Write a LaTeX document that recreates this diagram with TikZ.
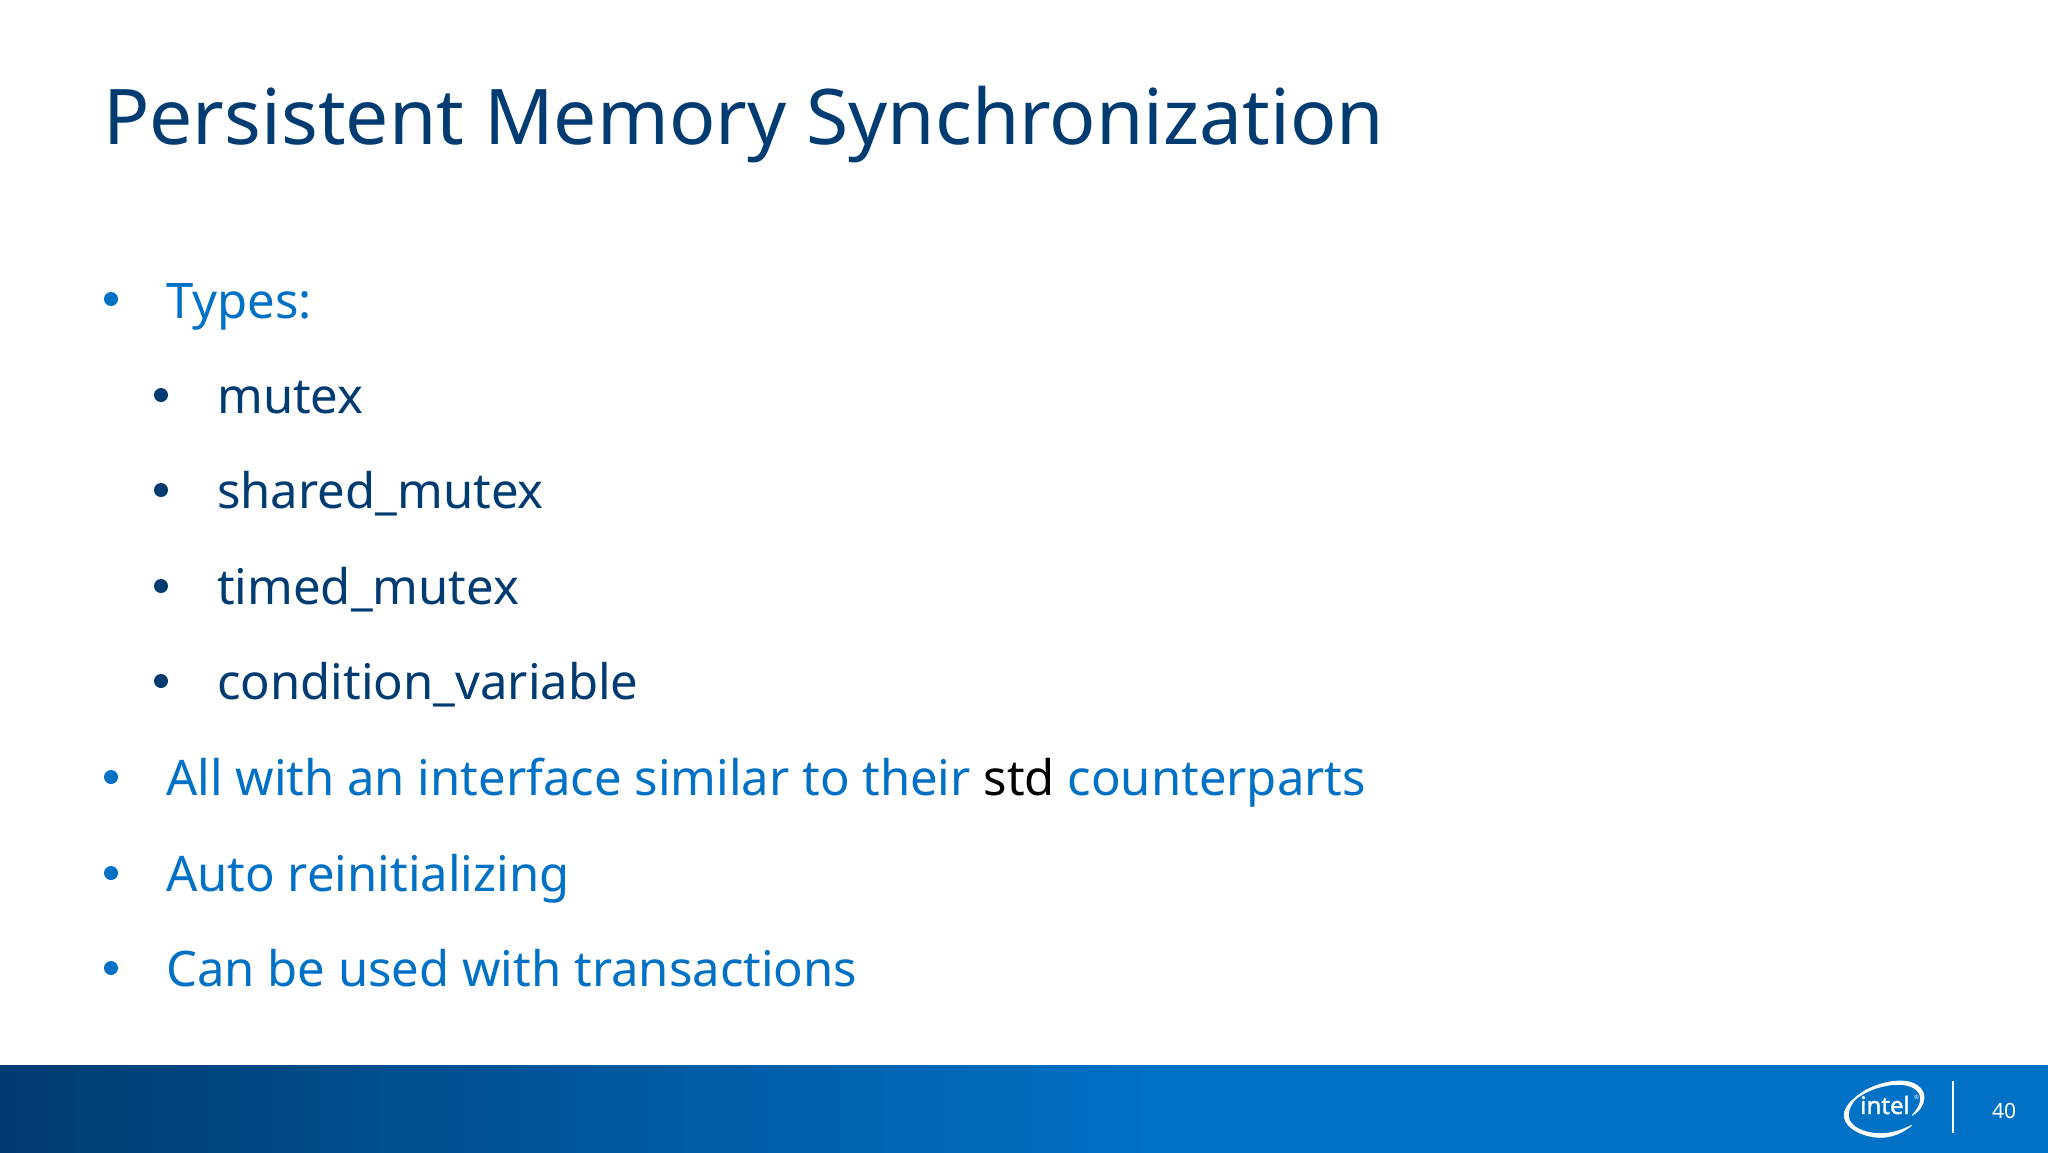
\documentclass[tikz,border=0pt]{standalone}
\usepackage{fontspec}
\setmainfont{Noto Sans}
\newfontfamily\logofont[FakeBold=1.6]{Noto Sans}
\definecolor{navy}{HTML}{003C71}
\definecolor{iblue}{HTML}{0071C5}
\tikzset{
  x=1pt,y=-1pt,
  titletext/.style={anchor=base west,inner sep=0pt,text=navy,font=\fontsize{76.8}{76.8}\selectfont},
  lone/.style={anchor=base west,inner sep=0pt,text=iblue,font=\fontsize{49}{49}\selectfont},
  ltwo/.style={anchor=base west,inner sep=0pt,text=navy,font=\fontsize{49}{49}\selectfont},
  bone/.style={circle,fill=iblue,inner sep=0pt,minimum size=14pt},
  btwo/.style={circle,fill=navy,inner sep=0pt,minimum size=14pt},
  swoosh/.style={fill=white,draw=white,line width=0.8pt,line join=round},
}
\begin{document}
\begin{tikzpicture}
\useasboundingbox (0,0) rectangle (2048,1152);
\fill[white] (0,0) rectangle (2048,1152);
\shade[left color=navy,right color=iblue,shading angle=90] (0,1065) rectangle (1150,1155);
\fill[iblue] (1149,1065) rectangle (2052,1155);
\node[titletext] (title) at (103,144) {Persistent Memory Synchronization};
\node[bone] (b1) at (111,299) {};
\node[lone] (t1) at (166,318) {Types:};
\node[btwo] (b2) at (161,395) {};
\node[ltwo] (t2) at (217,413) {mutex};
\node[btwo] (b3) at (161,490) {};
\node[ltwo] (t3) at (217,508) {shared\_mutex};
\node[btwo] (b4) at (161,586) {};
\node[ltwo] (t4) at (217,604) {timed\_mutex};
\node[btwo] (b5) at (161,681) {};
\node[ltwo] (t5) at (217,699) {condition\_variable};
\node[bone] (b6) at (111,777) {};
\node[lone] (t6) at (166,795) {All with an interface similar to their \textcolor{black}{std} \textcolor{iblue}{counterparts}};
\node[bone] (b7) at (111,873) {};
\node[lone] (t7) at (166,891) {Auto reinitializing};
\node[bone] (b8) at (111,968) {};
\node[lone] (t8) at (166,986) {Can be used with transactions};
% logo
\node[anchor=base,inner sep=0pt,text=white,font=\logofont\fontsize{24}{24}\selectfont] (intel) at (1885,1114) {intel};
\node[anchor=center,inner sep=0pt,text=white,font=\fontsize{6}{6}\selectfont] (reg) at (1916.5,1097) {®};
\begin{scope}[shift={(1835,1072)},x=0.3333pt,y=-0.3333pt]
\path[swoosh] (72,70) .. controls (40,90) and (25,115) .. (28,135) .. controls (32,170) and (90,197) .. (140,196) .. controls (175,195) and (205,180) .. (230,160) .. controls (200,175) and (170,185) .. (135,185) .. controls (90,185) and (42,165) .. (40,133) .. controls (38,115) and (50,90) .. (72,70) -- cycle;
\path[swoosh] (42,100) .. controls (70,55) and (140,28) .. (195,27) .. controls (240,26) and (268,50) .. (267,78) .. controls (266,100) and (250,120) .. (232,130) .. controls (245,115) and (257,98) .. (257,80) .. controls (257,55) and (230,37) .. (190,37) .. controls (140,37) and (75,60) .. (42,100) -- cycle;
\end{scope}
\draw[white,line width=1.5pt] (1953,1081) -- (1953,1133);
\node[anchor=base,inner sep=0pt,text=white,font=\fontsize{21}{21}\selectfont] (page) at (2004,1118) {40};
\end{tikzpicture}
\end{document}
